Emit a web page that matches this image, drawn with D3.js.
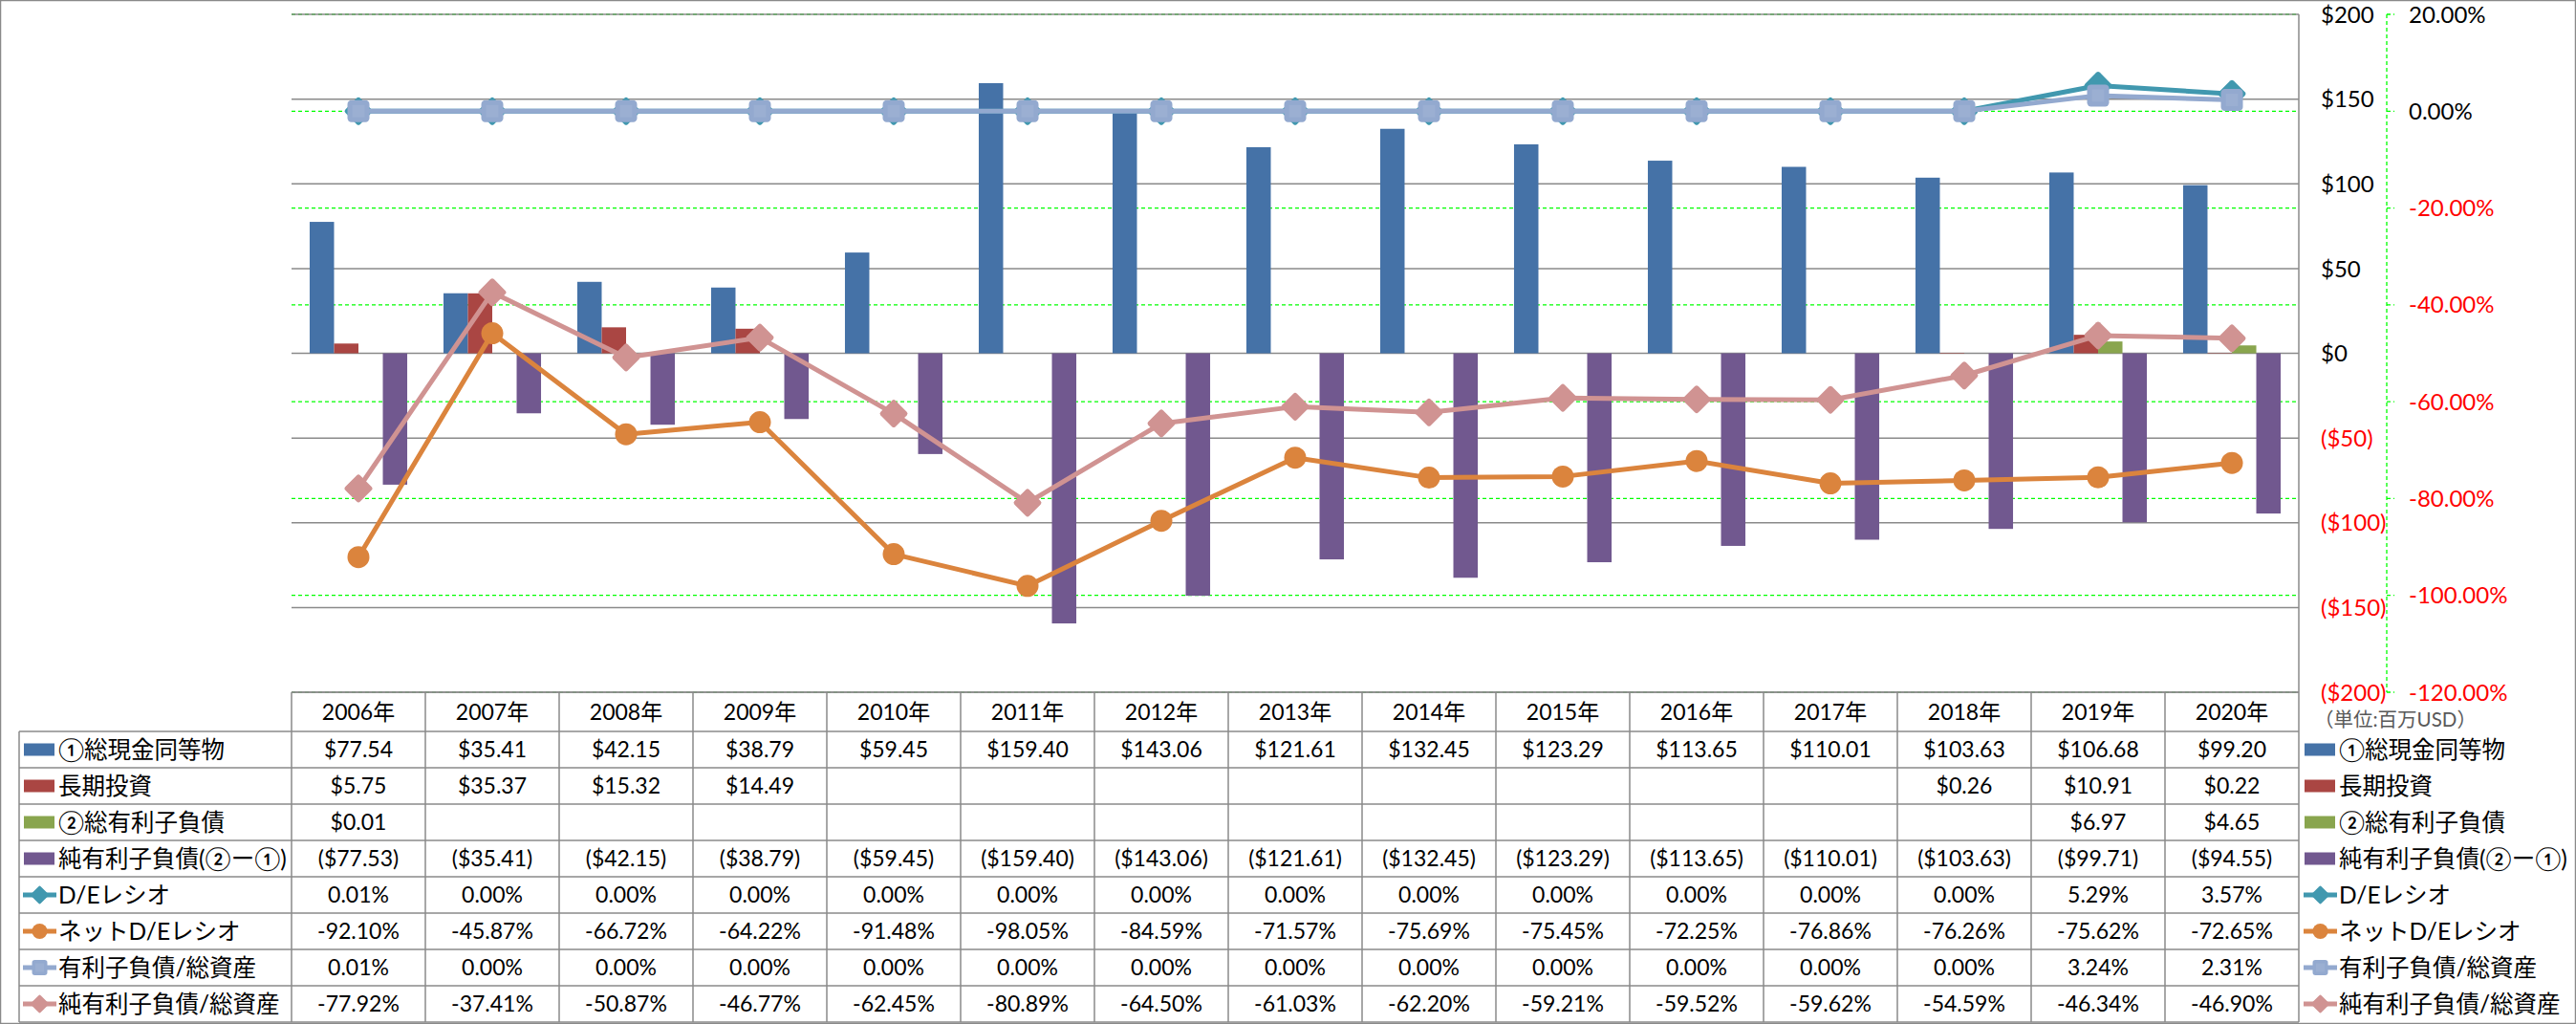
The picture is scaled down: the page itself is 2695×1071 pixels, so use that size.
<!DOCTYPE html>
<html><head><meta charset="utf-8">
<script src="https://cdn.jsdelivr.net/npm/d3@7"></script>
<style>
html,body{margin:0;padding:0;background:#fff;}
svg text{font-family:Lato,"Noto Sans CJK JP",sans-serif;}
</style></head>
<body><svg id="chart" width="2695" height="1071"></svg>
<script>
// ---------- DATA ----------
const years = ["2006年","2007年","2008年","2009年","2010年","2011年","2012年","2013年","2014年","2015年","2016年","2017年","2018年","2019年","2020年"];
const cashEq = [77.54,35.41,42.15,38.79,59.45,159.40,143.06,121.61,132.45,123.29,113.65,110.01,103.63,106.68,99.20];
const ltInvest = [5.75,35.37,15.32,14.49,null,null,null,null,null,null,null,null,0.26,10.91,0.22];
const totalDebt = [0.01,null,null,null,null,null,null,null,null,null,null,null,null,6.97,4.65];
const netDebt = [-77.53,-35.41,-42.15,-38.79,-59.45,-159.40,-143.06,-121.61,-132.45,-123.29,-113.65,-110.01,-103.63,-99.71,-94.55];
const deRatio = [0.01,0,0,0,0,0,0,0,0,0,0,0,0,5.29,3.57];
const netDeRatio = [-92.10,-45.87,-66.72,-64.22,-91.48,-98.05,-84.59,-71.57,-75.69,-75.45,-72.25,-76.86,-76.26,-75.62,-72.65];
const debtToAssets = [0.01,0,0,0,0,0,0,0,0,0,0,0,0,3.24,2.31];
const netDebtToAssets = [-77.92,-37.41,-50.87,-46.77,-62.45,-80.89,-64.50,-61.03,-62.20,-59.21,-59.52,-59.62,-54.59,-46.34,-46.90];
const leftTicks = [200,150,100,50,0,-50,-100,-150,-200];
const rightTicks = [20,0,-20,-40,-60,-80,-100,-120];
const unitLabel = "（単位:百万USD）";

const barSeries = [
  {name:"①総現金同等物", values:cashEq, color:"#4572A7"},
  {name:"長期投資", values:ltInvest, color:"#AA4643"},
  {name:"②総有利子負債", values:totalDebt, color:"#89A54E"},
  {name:"純有利子負債(②ー①)", values:netDebt, color:"#71588F"}
];
const lineSeries = [
  {name:"D/Eレシオ", values:deRatio, color:"#4198AF", marker:"diamond"},
  {name:"ネットD/Eレシオ", values:netDeRatio, color:"#DB843D", marker:"circle"},
  {name:"有利子負債/総資産", values:debtToAssets, color:"#93A9CF", marker:"square"},
  {name:"純有利子負債/総資産", values:netDebtToAssets, color:"#D09392", marker:"diamond"}
];

// ---------- LAYOUT ----------
const W = 2695, H = 1071;
const L = 305, R = 2405, T = 15, B = 724;
const svg = d3.select("#chart");
const GRID = "#8a8a8a";

const x = d3.scaleBand().domain(years).range([L, R]).paddingInner(0).paddingOuter(0);
const groupW = x.bandwidth() * 0.729;
const xs = d3.scaleBand().domain(d3.range(barSeries.length)).range([0, groupW]);
const yL = d3.scaleLinear().domain([-200, 200]).range([B, T]);
const yR = d3.scaleLinear().domain([-120, 20]).range([B, T]);

const fmtMoney = v => v == null ? "" : (v < 0 ? "($" + (-v).toFixed(2) + ")" : "$" + v.toFixed(2));
const fmtAxisMoney = v => v < 0 ? "($" + (-v) + ")" : "$" + v;
const fmtPct = v => v.toFixed(2) + "%";

// outer border
svg.append("rect").attr("x",0.5).attr("y",0.5).attr("width",W-1).attr("height",H-1)
  .attr("fill","#fff").attr("stroke","#8a8a8a").attr("stroke-width",1.5);

// green dashed gridlines (secondary axis)
svg.append("g").selectAll("line").data(rightTicks).join("line")
  .attr("x1",L).attr("x2",R).attr("y1",d=>yR(d)).attr("y2",d=>yR(d))
  .attr("stroke","#00ff00").attr("stroke-width",1.3).attr("stroke-dasharray","4,3");

// gray gridlines (primary axis)
svg.append("g").selectAll("line").data(leftTicks).join("line")
  .attr("x1",L).attr("x2",R).attr("y1",d=>yL(d)).attr("y2",d=>yL(d))
  .attr("stroke",GRID).attr("stroke-width",1.5);

// bars
const barOffset = (x.bandwidth() - groupW) / 2;
barSeries.forEach((s, si) => {
  svg.append("g").selectAll("rect")
    .data(s.values.map((v,i)=>({v, y:years[i]})).filter(d=>d.v!=null))
    .join("rect")
    .attr("x", d => x(d.y) + barOffset + xs(si))
    .attr("width", xs.bandwidth())
    .attr("y", d => Math.min(yL(d.v), yL(0)))
    .attr("height", d => Math.abs(yL(d.v) - yL(0)))
    .attr("fill", s.color);
});

// markers
function drawMarker(g, type, cx, cy, color, size) {
  if (type === "circle") {
    g.append("circle").attr("cx",cx).attr("cy",cy).attr("r",size/2).attr("fill",color);
  } else if (type === "square") {
    g.append("rect").attr("x",cx-size/2).attr("y",cy-size/2).attr("width",size).attr("height",size)
      .attr("rx",size*0.18).attr("fill",color);
    g.append("rect").attr("x",cx-size*0.28).attr("y",cy-size*0.28).attr("width",size*0.56).attr("height",size*0.56)
      .attr("fill","#fff").attr("opacity",0.08);
  } else {
    const s = size/Math.SQRT2;
    g.append("rect").attr("x",-s/2).attr("y",-s/2).attr("width",s).attr("height",s).attr("rx",s*0.12)
      .attr("fill",color).attr("transform",`translate(${cx},${cy}) rotate(45)`);
  }
}
const mSize = {diamond:31, circle:23, square:23};

// lines
const xc = d => x(d) + x.bandwidth()/2;
lineSeries.forEach(s => {
  const g = svg.append("g");
  const line = d3.line().x((d,i)=>xc(years[i])).y(d=>yR(d));
  g.append("path").attr("d", line(s.values)).attr("fill","none")
    .attr("stroke", s.color).attr("stroke-width", 5).attr("stroke-linejoin","round");
  s.values.forEach((v,i) => drawMarker(g, s.marker, xc(years[i]), yR(v), s.color, mSize[s.marker]));
});

// plot right border (continues through table)
svg.append("line").attr("x1",R).attr("x2",R).attr("y1",T).attr("y2",1069)
  .attr("stroke",GRID).attr("stroke-width",1.5);

// primary axis labels (right side)
svg.append("g").selectAll("text").data(leftTicks).join("text")
  .attr("x", 2428).attr("y", d=>yL(d)).attr("dy","0.36em")
  .attr("font-size", 24).attr("fill", d => d < 0 ? "#ff0000" : "#000")
  .text(fmtAxisMoney);

// secondary axis
const ax2 = 2497;
svg.append("line").attr("x1",ax2).attr("x2",ax2).attr("y1",T).attr("y2",B)
  .attr("stroke","#00ff00").attr("stroke-width",1.3).attr("stroke-dasharray","4,3");
svg.append("g").selectAll("line").data(rightTicks).join("line")
  .attr("x1",ax2).attr("x2",ax2+8).attr("y1",d=>yR(d)).attr("y2",d=>yR(d))
  .attr("stroke","#00ff00").attr("stroke-width",1.3).attr("stroke-dasharray","4,3");
svg.append("g").selectAll("text").data(rightTicks).join("text")
  .attr("x", 2520).attr("y", d=>yR(d)).attr("dy","0.36em")
  .attr("font-size", 24).attr("fill", d => d < 0 ? "#ff0000" : "#000")
  .text(fmtPct);

// ---------- DATA TABLE ----------
const tTop = 724, hdrH = 41, rowH = 38, tLeft = 20;
const rows = [
  ...barSeries.map(s => ({...s, kind:"bar", text: s.values.map(fmtMoney)})),
  ...lineSeries.map(s => ({...s, kind:"line", text: s.values.map(fmtPct)}))
];
const rowY = i => tTop + hdrH + i * rowH;
const tBottom = rowY(rows.length);
const tg = svg.append("g");

// horizontal lines
tg.append("line").attr("x1",L).attr("x2",R).attr("y1",tTop).attr("y2",tTop).attr("stroke",GRID).attr("stroke-width",1.5);
d3.range(rows.length+1).forEach(i => {
  tg.append("line").attr("x1",tLeft).attr("x2",R).attr("y1",rowY(i)).attr("y2",rowY(i))
    .attr("stroke",GRID).attr("stroke-width",1.5);
});
// vertical lines
tg.append("line").attr("x1",tLeft).attr("x2",tLeft).attr("y1",rowY(0)).attr("y2",tBottom).attr("stroke",GRID).attr("stroke-width",1.5);
years.forEach(yv => {
  tg.append("line").attr("x1",x(yv)).attr("x2",x(yv)).attr("y1",tTop).attr("y2",tBottom).attr("stroke",GRID).attr("stroke-width",1.5);
});

// header
tg.selectAll("text.hdr").data(years).join("text").attr("class","hdr")
  .attr("x", d=>xc(d)).attr("y", tTop + hdrH/2).attr("dy","0.36em")
  .attr("text-anchor","middle").attr("font-size",23).attr("fill","#000").text(d=>d);

// legend key
function drawKey(g, r, kx, cy) {
  if (r.kind === "bar") {
    g.append("rect").attr("x",kx).attr("y",cy-6.5).attr("width",32).attr("height",13).attr("fill",r.color);
  } else {
    g.append("line").attr("x1",kx-1).attr("x2",kx+34).attr("y1",cy).attr("y2",cy)
      .attr("stroke",r.color).attr("stroke-width",5);
    drawMarker(g, r.marker, kx+16.5, cy, r.color, r.marker === "diamond" ? 20 : 16);
  }
}

rows.forEach((r, ri) => {
  const cy = rowY(ri) + rowH/2;
  drawKey(tg, r, 25, cy);
  tg.append("text").attr("x",61).attr("y",cy).attr("dy","0.36em").attr("font-size",24.5).attr("fill","#000").text(r.name);
  r.text.forEach((t, ci) => {
    if (!t) return;
    tg.append("text").attr("x", xc(years[ci])).attr("y", cy).attr("dy","0.36em")
      .attr("text-anchor","middle").attr("font-size",23).attr("fill","#000").text(t);
  });
  // right-side legend
  drawKey(tg, r, 2411, cy);
  tg.append("text").attr("x",2447).attr("y",cy).attr("dy","0.36em").attr("font-size",24.5).attr("fill","#000").text(r.name);
});

// unit label
svg.append("text").attr("x",2421).attr("y",753).attr("dy","0.36em").attr("font-size",20.5)
  .attr("fill","#595959").text(unitLabel);
</script>
</body></html>
